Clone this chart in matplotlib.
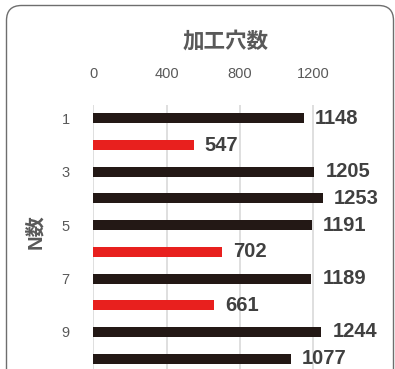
import matplotlib
matplotlib.use("Agg")
import matplotlib.pyplot as plt
from matplotlib.patches import FancyBboxPatch
from matplotlib.transforms import IdentityTransform

# Data
categories = [1, 2, 3, 4, 5, 6, 7, 8, 9, 10]
values = [1148, 547, 1205, 1253, 1191, 702, 1189, 661, 1244, 1077]
highlight = [False, True, False, False, False, True, False, True, False, False]
tick_labels_y = ["1", "", "3", "", "5", "", "7", "", "9", ""]
x_ticks = [0, 400, 800, 1200]
x_title = "加工穴数"
y_title = "N数"

BLACK = "#231815"
RED = "#E8201E"
GRAY_TEXT = "#595959"
LABEL_TEXT = "#404040"

plt.rcParams['font.family'] = ['Liberation Sans', 'Noto Sans CJK JP', 'DejaVu Sans']

W, H = 395, 369
fig = plt.figure(figsize=(W / 100, H / 100), dpi=100)

# axes in pixel terms
left_px, top_px = 93.3, 105
row_px = 26.7
n = len(categories)
xmax = 1450
px_per_unit = 220 / 1200
width_px = xmax * px_per_unit
height_px = n * row_px
ax = fig.add_axes([left_px / W, 1 - (top_px + height_px) / H, width_px / W, height_px / H])

colors = [RED if h else BLACK for h in highlight]
ax.barh(categories, values, height=0.375, color=colors, zorder=3)

ax.set_xlim(0, xmax)
ax.set_ylim(n + 0.5, 0.5)
ax.set_xticks(x_ticks)
ax.set_yticks(categories)
ax.set_yticklabels(tick_labels_y)
ax.xaxis.tick_top()
ax.tick_params(axis='x', length=0, pad=17, labelsize=10.5, labelcolor=GRAY_TEXT)
ax.tick_params(axis='y', length=0, pad=17, labelsize=10.5, labelcolor=GRAY_TEXT)
ax.grid(axis='x', color="#d9d9d9", linewidth=1.2, zorder=0)
for s in ax.spines.values():
    s.set_visible(False)
ax.set_facecolor("none")

for c, v in zip(categories, values):
    ax.annotate(str(v), (v, c), xytext=(8, 0), textcoords='offset points',
                ha='left', va='center', fontsize=14.5, fontweight='bold',
                color=LABEL_TEXT, annotation_clip=False)

fig.text(226 / W, 1 - 42 / H, x_title, ha='center', va='center', fontsize=15.5,
         fontweight='bold', color=GRAY_TEXT)
fig.text(36 / W, 1 - 232 / H, y_title, ha='center', va='center', fontsize=14.5,
         fontweight='bold', color=GRAY_TEXT, rotation=90)

border = FancyBboxPatch((6.5, -30), 387, H - 5.5 + 30,
                        boxstyle='round,pad=0,rounding_size=15',
                        transform=IdentityTransform(), facecolor='none',
                        edgecolor='#6e6e6e', linewidth=1.0)
fig.add_artist(border)

fig.savefig("out.png", dpi=100)
